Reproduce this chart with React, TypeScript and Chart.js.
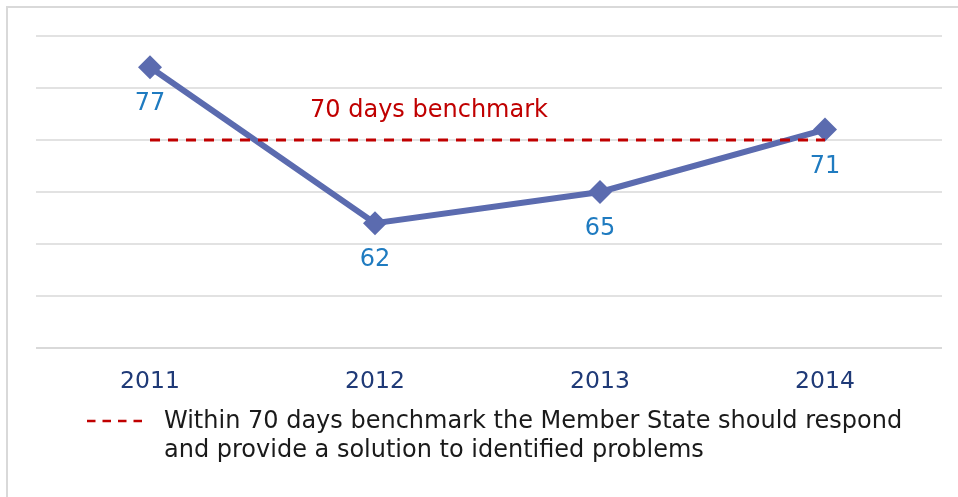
import React, { useEffect, useRef } from "react";
import { Chart, registerables } from "chart.js";

Chart.register(...registerables);

const years = ["2011", "2012", "2013", "2014"];
const daysValues = [77, 62, 65, 71];
const benchmarkValues = [70, 70, 70, 70];
const benchmarkLabel = "70 days benchmark";
const legendLines = [
  "Within 70 days benchmark the Member State should respond",
  "and provide a solution to identified problems",
];
const yMin = 50;
const yMax = 80;
const yStep = 5;

const FONT = "'DejaVu Sans', Verdana, sans-serif";

export default function App() {
  const ref = useRef<HTMLCanvasElement | null>(null);

  useEffect(() => {
    if (!ref.current) return;
    const overlay = {
      id: "overlay",
      beforeDatasetsDraw(chart: any) {
        const ctx = chart.ctx;
        const y = chart.scales.y;
        ctx.save();
        ctx.strokeStyle = "#d9d9d9";
        y.ticks.forEach((t: any) => {
          const py = Math.round(y.getPixelForValue(t.value));
          ctx.lineWidth = t.value === yMin ? 2 : 1.3;
          ctx.beginPath();
          ctx.moveTo(36, py);
          ctx.lineTo(942, py);
          ctx.stroke();
        });
        ctx.restore();
      },
      afterDatasetsDraw(chart: any) {
        const ctx = chart.ctx;
        const xs = chart.scales.x;
        const ys = chart.scales.y;
        ctx.save();
        ctx.font = `24px ${FONT}`;
        ctx.textAlign = "center";
        ctx.textBaseline = "middle";
        ctx.fillStyle = "#1F7BC0";
        const meta = chart.getDatasetMeta(1);
        meta.data.forEach((p: any, i: number) => {
          ctx.fillText(String(daysValues[i]), p.x, p.y + 37);
        });
        ctx.fillStyle = "#C00000";
        const bx = xs.getPixelForValue(1) + 0.24 * (xs.getPixelForValue(2) - xs.getPixelForValue(1));
        ctx.fillText(benchmarkLabel, bx, ys.getPixelForValue(70) - 29);
        // legend
        ctx.strokeStyle = "#C00000";
        ctx.lineWidth = 2.5;
        ctx.setLineDash([8.5, 7]);
        ctx.beginPath();
        ctx.moveTo(87, 421);
        ctx.lineTo(144, 421);
        ctx.stroke();
        ctx.setLineDash([]);
        ctx.fillStyle = "#1a1a1a";
        ctx.textAlign = "left";
        legendLines.forEach((l, i) => ctx.fillText(l, 164, 422 + i * 29));
        ctx.restore();
      },
    };

    const chart = new Chart(ref.current, {
      type: "line",
      data: {
        labels: years,
        datasets: [
          {
            label: "Benchmark",
            data: benchmarkValues,
            borderColor: "#C00000",
            borderWidth: 3,
            borderDash: [10, 8],
            pointRadius: 0,
            fill: false,
          },
          {
            label: "Days",
            data: daysValues,
            borderColor: "#5B6BAF",
            backgroundColor: "#5B6BAF",
            borderWidth: 6,
            pointStyle: "rectRot",
            pointRadius: 12,
            pointBorderWidth: 0,
            fill: false,
          },
        ],
      },
      options: {
        responsive: false,
        animation: false,
        layout: { padding: { left: 37.5, right: 20.5, top: 36, bottom: 0 } },
        plugins: { legend: { display: false }, tooltip: { enabled: false } },
        scales: {
          x: {
            offset: true,
            grid: { display: false, offset: true },
            border: { display: false },
            ticks: { color: "#1F3A77", font: { family: FONT, size: 23.5 }, padding: 12 },
            afterFit: (s: any) => {
              s.height = 149;
            },
          },
          y: {
            display: true,
            min: yMin,
            max: yMax,
            grid: { display: false },
            border: { display: false },
            ticks: { stepSize: yStep, display: false },
            afterFit: (s: any) => {
              s.width = 0;
            },
          },
        },
      },
      plugins: [overlay],
    });
    return () => chart.destroy();
  }, []);

  return (
    <div style={{ position: "absolute", left: 0, top: 0, width: 958, height: 497, overflow: "hidden", background: "#fff" }}>
      <div style={{ position: "absolute", left: 6, top: 6, width: 1000, height: 600, border: "2px solid #d9d9d9" }} />
      <canvas ref={ref} width={958} height={497} style={{ position: "absolute", left: 0, top: 0 }} />
    </div>
  );
}
